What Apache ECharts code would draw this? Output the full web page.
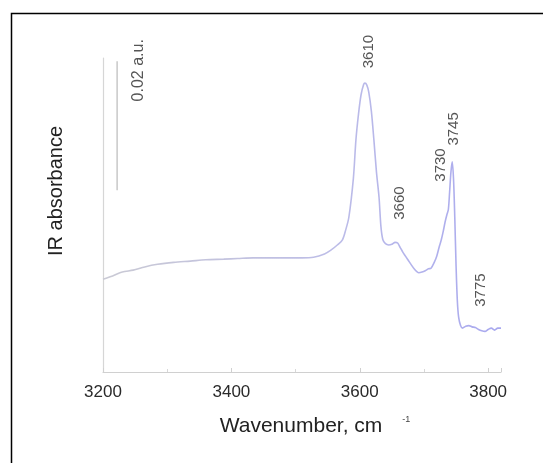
<!DOCTYPE html>
<html>
<head>
<meta charset="utf-8">
<script src="https://cdn.jsdelivr.net/npm/echarts@6/dist/echarts.min.js"></script>
<style>
html, body { margin: 0; padding: 0; background: #fff; }
#chart { width: 543px; height: 463px; }
</style>
</head>
<body>
<div id="chart"></div>
<script>
// IR spectrum, wavenumber (cm-1) vs absorbance (a.u.)
const wavenumbers = [3200, 3215, 3230, 3247, 3265, 3285, 3310, 3336, 3360, 3388, 3410, 3434, 3460, 3492, 3510, 3528, 3545, 3555, 3565, 3573,
	3578, 3583, 3590, 3594, 3598, 3602, 3606, 3608, 3611, 3614, 3618, 3622, 3626, 3630, 3633, 3636, 3640, 3645, 3650, 3655,
	3659, 3663, 3667, 3675, 3684, 3692, 3697, 3702, 3707, 3711, 3716, 3720, 3724, 3727, 3730, 3733, 3736, 3738, 3740, 3742,
	3744, 3746, 3748, 3750, 3752, 3754, 3757, 3760, 3765, 3770, 3775, 3780, 3785, 3790, 3795, 3800, 3805, 3810, 3815, 3820];
const absorbance = [0.0144, 0.0149, 0.0155, 0.0158, 0.0163, 0.0167, 0.0170, 0.0172, 0.0174, 0.0175, 0.0176, 0.0177, 0.0177, 0.0177, 0.0177, 0.0178, 0.0183, 0.0189, 0.0197, 0.0205,
	0.0220, 0.0240, 0.0300, 0.0360, 0.0400, 0.0430, 0.0446, 0.0448, 0.0445, 0.0434, 0.0405, 0.0360, 0.0310, 0.0271, 0.0225, 0.0205, 0.0199, 0.0197, 0.0198, 0.0201,
	0.0200, 0.0193, 0.0186, 0.0174, 0.0161, 0.0154, 0.0155, 0.0157, 0.0160, 0.0161, 0.0170, 0.0180, 0.0195, 0.0205, 0.0218, 0.0233, 0.0245, 0.0252, 0.0280, 0.0310,
	0.0326, 0.0300, 0.0240, 0.0165, 0.0110, 0.0085, 0.0072, 0.0068, 0.0071, 0.0072, 0.0070, 0.0069, 0.0066, 0.0064, 0.0063, 0.0066, 0.0068, 0.0065, 0.0068, 0.0068];

// peak annotations: label, wavenumber, height where the label sits
const peakNames = ["3610", "3660", "3730", "3745", "3775"];
const peakX = [3614, 3663, 3727, 3747, 3789];
const peakY = [0.0497, 0.0262, 0.0321, 0.0377, 0.0127];

// 0.02 a.u. scale bar
const scaleBarX = 3222;
const scaleBarFrom = 0.0282;
const scaleBarTo = 0.0482;
const scaleBarText = "0.02 a.u.";
const scaleTextX = 3255;
const scaleTextY = 0.0468;

const xTicks = [3200, 3400, 3600, 3800];

const spectrum = wavenumbers.map((w, i) => [w, absorbance[i]]);
const peaks = peakNames.map((n, i) => ({ name: n, value: [peakX[i], peakY[i]] }));

const initChart = () => {
	const myChart = echarts.init(document.getElementById("chart"));
	const font = "Liberation Sans, Arial, sans-serif";

	myChart.setOption({
		animation: false,
		backgroundColor: "#fff",
		graphic: [{
			type: "rect",
			left: 9, top: 11,
			shape: { width: 600, height: 500 },
			style: { fill: "none", stroke: "#000", lineWidth: 1.5 },
			silent: true
		}],
		grid: { left: 103, top: 58, right: 42, bottom: 91 },
		xAxis: {
			type: "value",
			min: 3200,
			max: 3820,
			interval: 200,
			name: "{a|Wavenumber, cm}{s|-1}",
			nameLocation: "middle",
			nameGap: 43,
			nameTextStyle: {
				padding: [0, 0, 0, 26],
				rich: {
					a: { fontSize: 21, color: "#222", fontFamily: font },
					s: { fontSize: 9, color: "#444", fontFamily: font, padding: [0, 0, 14, 20] }
				}
			},
			axisLine: { lineStyle: { color: "#d0d0d0", width: 1.2 } },
			axisTick: { inside: true, length: 4, lineStyle: { color: "#d0d0d0" } },
			minorTick: { show: true, splitNumber: 2, length: 3, lineStyle: { color: "#d8d8d8" } },
			splitLine: { show: false },
			axisLabel: {
				fontSize: 17, color: "#2a2a2a", fontFamily: font, margin: 12,
				showMaxLabel: false,
				formatter: v => xTicks.includes(v) ? String(v) : ""
			}
		},
		yAxis: {
			type: "value",
			min: 0,
			max: 0.0487,
			name: "IR absorbance",
			nameLocation: "middle",
			nameGap: 37,
			nameTextStyle: { fontSize: 20, color: "#222", fontFamily: font, padding: [0, 0, 0, 48] },
			axisLine: { show: true, lineStyle: { color: "#d6d6d6", width: 1.2 } },
			axisTick: { show: false },
			axisLabel: { show: false },
			splitLine: { show: false }
		},
		series: [
			{
				type: "line",
				data: spectrum,
				showSymbol: false,
				smooth: 0.3,
				lineStyle: {
					width: 1.6,
					color: new echarts.graphic.LinearGradient(0, 0, 1, 0, [
						{ offset: 0, color: "#cacad4" },
						{ offset: 0.6, color: "#bcbce8" },
						{ offset: 1, color: "#a8a8ef" }
					])
				}
			},
			{
				type: "line",
				data: [[scaleBarX, scaleBarFrom], [scaleBarX, scaleBarTo]],
				showSymbol: false,
				lineStyle: { width: 1.5, color: "#c8c8c8" }
			},
			{
				type: "scatter",
				clip: false,
				symbolSize: 0,
				data: peaks,
				label: {
					show: true,
					position: "inside",
					rotate: 90,
					formatter: p => p.name,
					fontSize: 15,
					color: "#2a2a2a",
					fontFamily: font
				}
			},
			{
				type: "scatter",
				clip: false,
				symbolSize: 0,
				data: [{ name: scaleBarText, value: [scaleTextX, scaleTextY] }],
				label: {
					show: true,
					position: "inside",
					rotate: 90,
					formatter: p => p.name,
					fontSize: 16,
					color: "#2a2a2a",
					fontFamily: font
				}
			}
		]
	});
	myChart.resize();
};

window.addEventListener("load", () => {
	initChart();
});
</script>
</body>
</html>
